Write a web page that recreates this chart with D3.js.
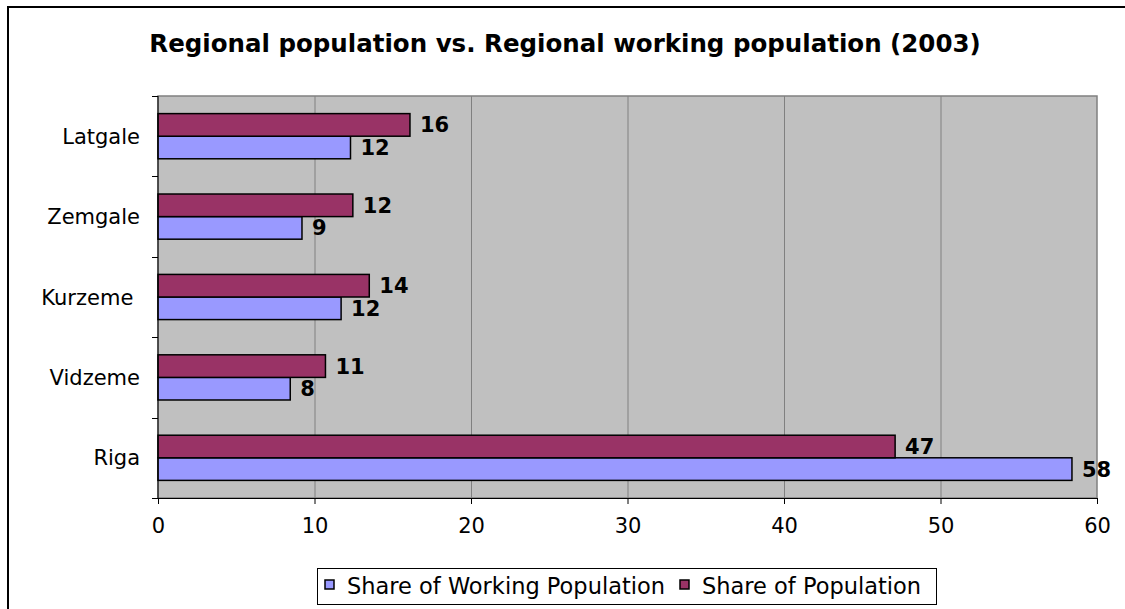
<!DOCTYPE html>
<html>
<head>
<meta charset="utf-8">
<script src="https://cdn.jsdelivr.net/npm/d3@7"></script>
<style>
	body { margin: 0; background: #fff; }
	text { font-family: 'DejaVu Sans', Verdana, sans-serif; }
</style>
</head>
<body>
<script>

var regions = ['Latgale', 'Zemgale', 'Kurzeme ', 'Vidzeme', 'Riga'];
var workingShare = [12.3, 9.2, 11.7, 8.45, 58.4];
var populationShare = [16.1, 12.45, 13.5, 10.7, 47.1];
var seriesNames = ['Share of Working Population', 'Share of Population'];
var xTicks = [0, 10, 20, 30, 40, 50, 60];

(
	function() {

		var width = 1125;
		var height = 609;
		var plotLeft = 158;
		var plotRight = 1097;
		var plotTop = 96;
		var plotBottom = 498;
		var barColors = ['#9999ff', '#993366'];

		var svg = d3.select('body')
			.append('svg')
				.attr('width', width)
				.attr('height', height);

		// outer chart frame, runs off the right and bottom edge
		svg.append('rect')
			.attr('x', 8)
			.attr('y', 7)
			.attr('width', width)
			.attr('height', height)
			.attr('fill', '#fff')
			.attr('stroke', '#000')
			.attr('stroke-width', 2);

		svg.append('text')
			.attr('x', 565)
			.attr('y', 52)
			.attr('text-anchor', 'middle')
			.style('font-size', '24.5px')
			.style('font-weight', 'bold')
			.text('Regional population vs. Regional working population (2003)');

		var x = d3.scaleLinear()
			.domain([0, 60])
			.range([plotLeft, plotRight]);

		var y = d3.scaleBand()
			.domain(regions)
			.range([plotTop, plotBottom]);

		var inner = d3.scaleBand()
			.domain([1, 0]) // population bar on top, working below
			.range([0, y.bandwidth()])
			.paddingInner(0)
			.paddingOuter(0.78);

		svg.append('rect')
			.attr('x', plotLeft)
			.attr('y', plotTop)
			.attr('width', plotRight - plotLeft)
			.attr('height', plotBottom - plotTop)
			.attr('fill', '#c0c0c0')
			.attr('stroke', '#808080')
			.attr('stroke-width', 1.5);

		svg.append('g')
			.selectAll('line')
			.data(xTicks.slice(1, -1))
			.join('line')
				.attr('x1', d => x(d) + 0.5)
				.attr('x2', d => x(d) + 0.5)
				.attr('y1', plotTop)
				.attr('y2', plotBottom)
				.attr('stroke', '#808080')
				.attr('stroke-width', 1);

		var series = [workingShare, populationShare];

		series.forEach( (serie, i) => {

			var g = svg.append('g');

			g.selectAll('rect')
				.data(serie)
				.join('rect')
					.attr('x', x(0))
					.attr('y', (d, j) => y(regions[j]) + inner(i))
					.attr('width', d => x(d) - x(0))
					.attr('height', inner.bandwidth())
					.attr('fill', barColors[i])
					.attr('stroke', '#000')
					.attr('stroke-width', 1.5);

			g.selectAll('text')
				.data(serie)
				.join('text')
					.attr('x', d => x(d) + 10)
					.attr('y', (d, j) => y(regions[j]) + inner(i) + inner.bandwidth() / 2)
					.attr('dy', '0.36em')
					.style('font-size', '21px')
					.style('font-weight', 'bold')
					.text(d => Math.round(d));
		});

		// axes
		var xAxis = svg.append('g')
			.attr('transform', 'translate(0,' + plotBottom + ')')
			.call(d3.axisBottom(x).tickValues(xTicks).tickSize(6).tickPadding(14));

		var yTickPos = regions.map(r => y(r)).concat([plotBottom]);

		var yAxis = svg.append('g');
		yAxis.append('line')
			.attr('x1', plotLeft)
			.attr('x2', plotLeft)
			.attr('y1', plotTop)
			.attr('y2', plotBottom)
			.attr('stroke', '#000');
		yAxis.selectAll('.tk')
			.data(yTickPos)
			.join('line')
				.attr('class', 'tk')
				.attr('x1', plotLeft - 6)
				.attr('x2', plotLeft)
				.attr('y1', d => Math.round(d) + 0.5)
				.attr('y2', d => Math.round(d) + 0.5)
				.attr('stroke', '#000');
		yAxis.selectAll('text')
			.data(regions)
			.join('text')
				.attr('x', 140)
				.attr('y', d => y(d) + y.bandwidth() / 2)
				.attr('dy', '0.36em')
				.attr('text-anchor', 'end')
				.style('white-space', 'pre')
				.style('font-size', '21px')
				.text(d => d);

		xAxis.select('.domain').attr('stroke', '#000');
		xAxis.selectAll('.tick line').attr('stroke', '#000');
		xAxis.selectAll('.tick text')
			.attr('fill', '#000')
			.style('font-size', '21px')
			.style('font-family', "'DejaVu Sans', Verdana, sans-serif");

		// legend
		var legend = svg.append('g');
		legend.append('rect')
			.attr('x', 317.5)
			.attr('y', 568.5)
			.attr('width', 619)
			.attr('height', 36)
			.attr('fill', '#fff')
			.attr('stroke', '#000');

		var legendX = [325, 680];
		seriesNames.forEach( (name, i) => {
			legend.append('rect')
				.attr('x', legendX[i])
				.attr('y', 580)
				.attr('width', 9)
				.attr('height', 9)
				.attr('fill', barColors[i])
				.attr('stroke', '#000')
				.attr('stroke-width', 1.5);
			legend.append('text')
				.attr('x', legendX[i] + 22)
				.attr('y', 586)
				.attr('dy', '0.36em')
				.style('font-size', '22.5px')
				.text(name);
		});

	}
)();

</script>
</body>
</html>
